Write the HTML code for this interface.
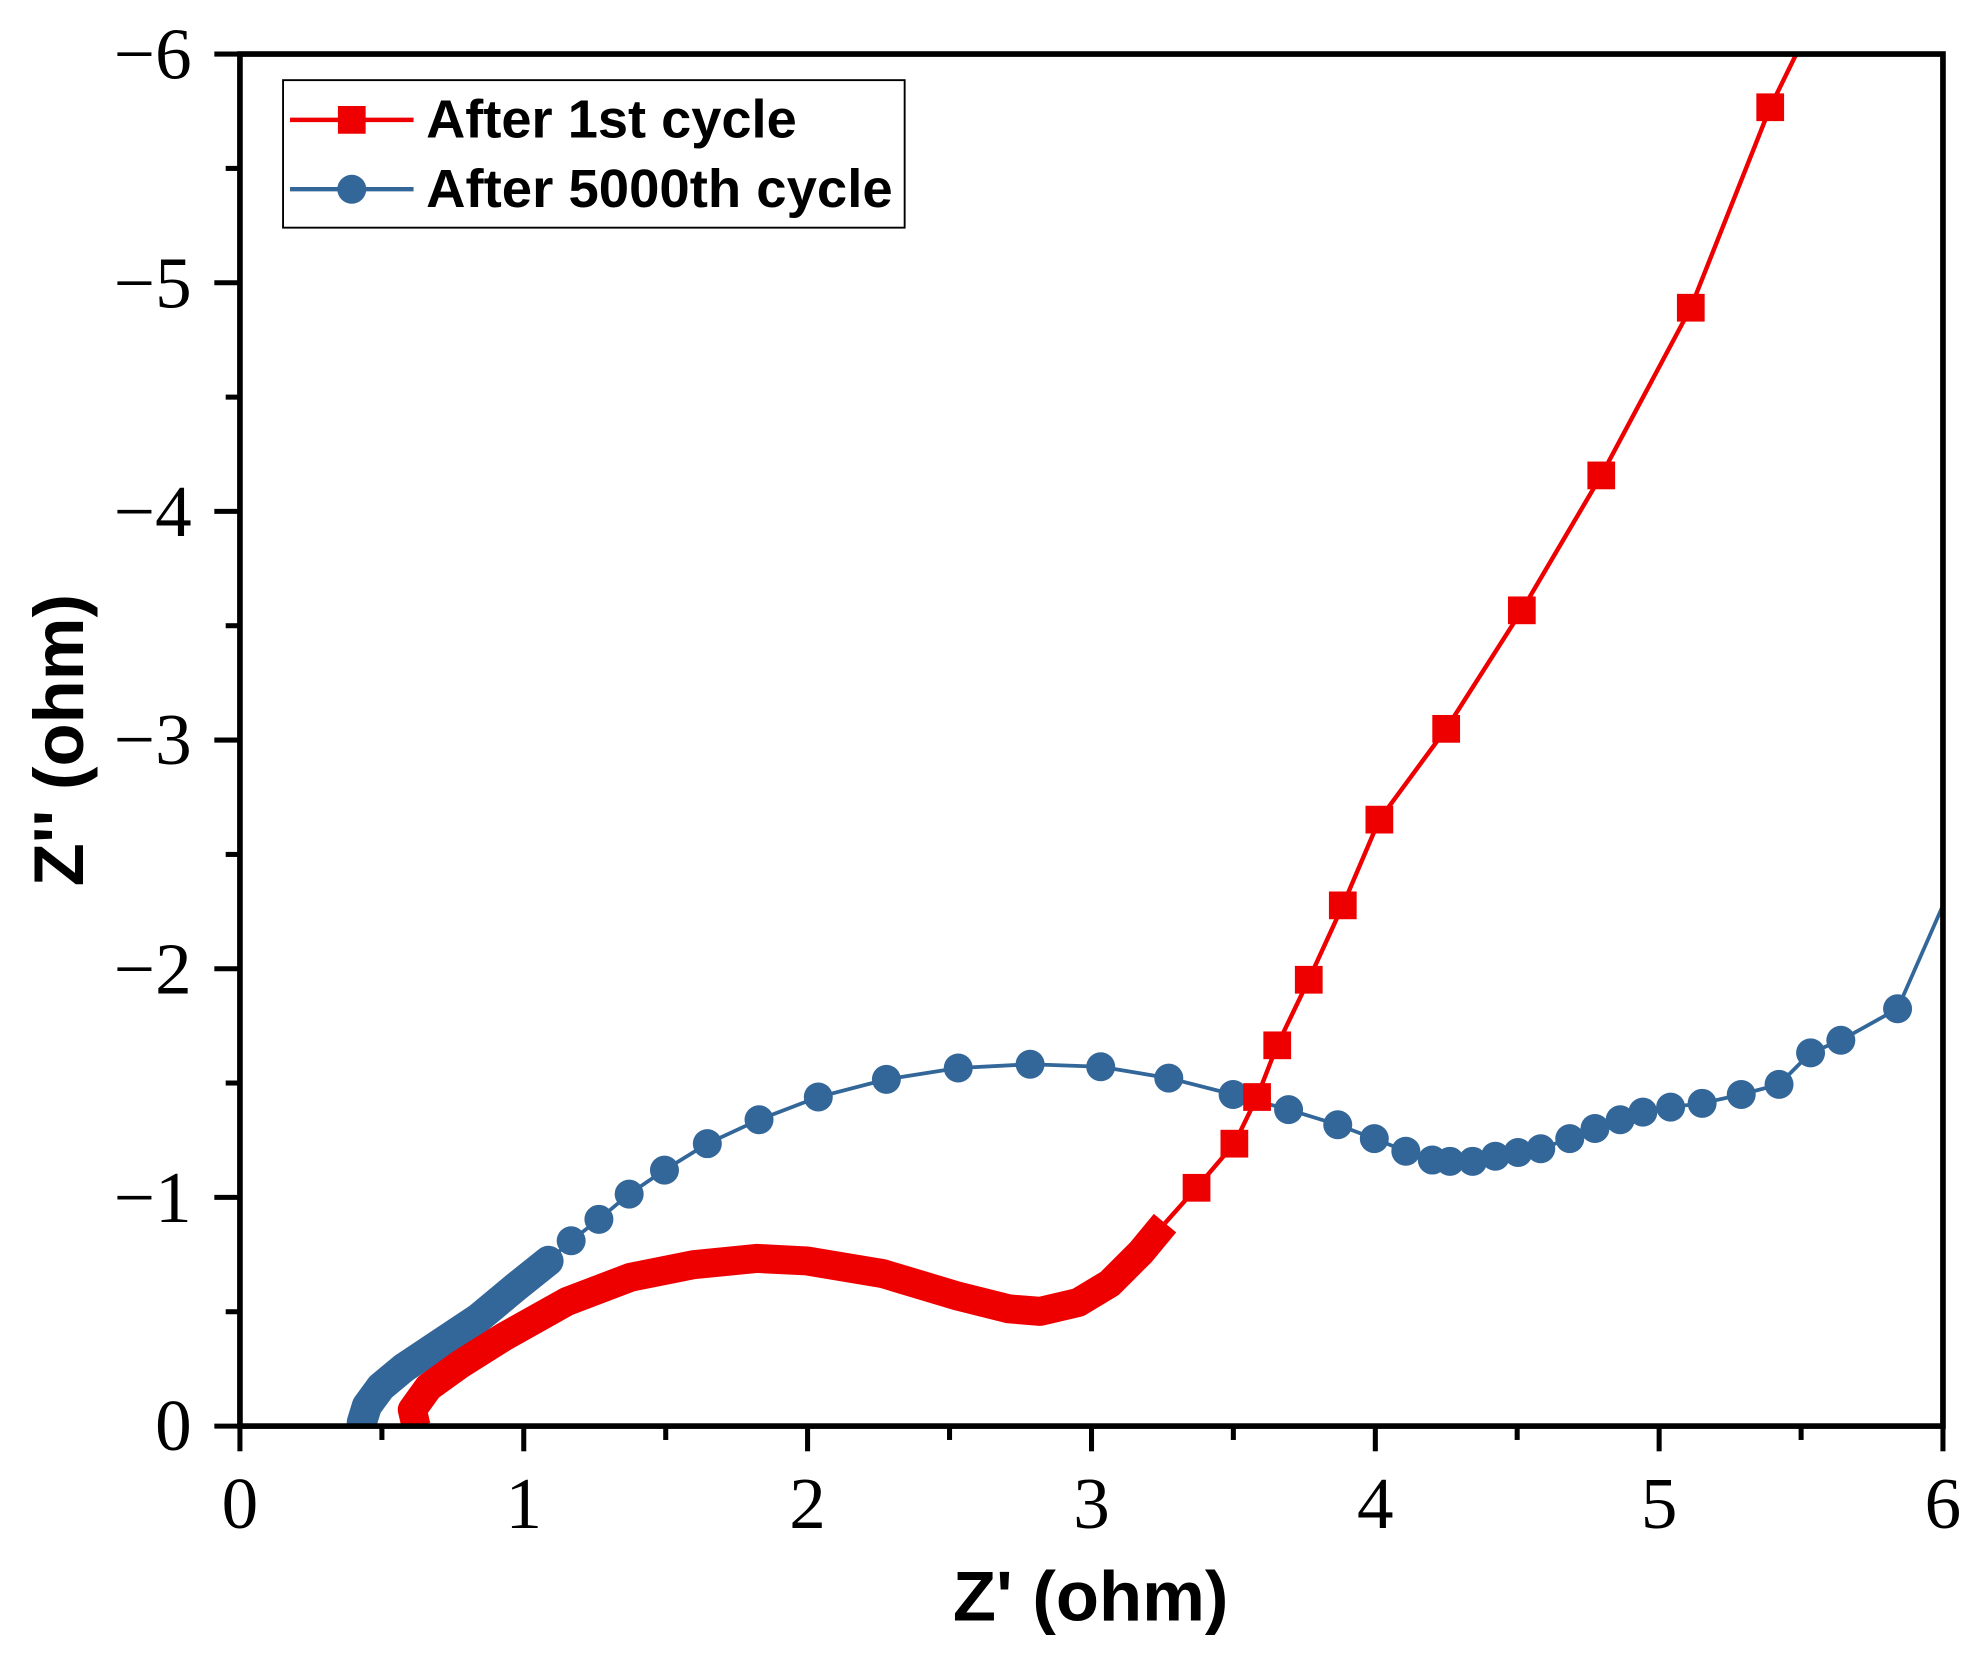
<!DOCTYPE html>
<html><head><meta charset="utf-8"><style>html,body{margin:0;padding:0;background:#fff}svg{display:block}</style></head>
<body>
<svg xmlns="http://www.w3.org/2000/svg" width="1977" height="1667" viewBox="0 0 1568 1322">
<defs><clipPath id="c"><rect x="190" y="43" width="1351" height="1088"/></clipPath></defs>
<g clip-path="url(#c)">
<polyline fill="none" stroke="#336699" stroke-width="3" points="435,1000 453,984 475,967 499,947 527,928 561,907 602,888 649,870 703,856 760,847 817,844 873,846 927,855 978,868 1022,880 1061,892 1090,903 1115,913 1136,920 1150,921 1168,921 1186,917 1204,914 1222,911 1245,903 1265,895 1285,888 1303,882 1325,878 1350,875 1381,868 1411,860 1436,835 1460,825 1505,800 1541,718"/>
<polyline fill="none" stroke="#336699" stroke-width="24" stroke-linecap="round" stroke-linejoin="round" points="287,1128 291,1115 302,1100 320,1085 350,1065 380,1045 410,1020 420,1012 435,1000"/>
<g fill="#336699">
<circle cx="453" cy="984" r="11.5"/><circle cx="475" cy="967" r="11.5"/><circle cx="499" cy="947" r="11.5"/><circle cx="527" cy="928" r="11.5"/><circle cx="561" cy="907" r="11.5"/><circle cx="602" cy="888" r="11.5"/><circle cx="649" cy="870" r="11.5"/><circle cx="703" cy="856" r="11.5"/><circle cx="760" cy="847" r="11.5"/><circle cx="817" cy="844" r="11.5"/><circle cx="873" cy="846" r="11.5"/><circle cx="927" cy="855" r="11.5"/><circle cx="978" cy="868" r="11.5"/><circle cx="1022" cy="880" r="11.5"/><circle cx="1061" cy="892" r="11.5"/><circle cx="1090" cy="903" r="11.5"/><circle cx="1115" cy="913" r="11.5"/><circle cx="1136" cy="920" r="11.5"/><circle cx="1150" cy="921" r="11.5"/><circle cx="1168" cy="921" r="11.5"/><circle cx="1186" cy="917" r="11.5"/><circle cx="1204" cy="914" r="11.5"/><circle cx="1222" cy="911" r="11.5"/><circle cx="1245" cy="903" r="11.5"/><circle cx="1265" cy="895" r="11.5"/><circle cx="1285" cy="888" r="11.5"/><circle cx="1303" cy="882" r="11.5"/><circle cx="1325" cy="878" r="11.5"/><circle cx="1350" cy="875" r="11.5"/><circle cx="1381" cy="868" r="11.5"/><circle cx="1411" cy="860" r="11.5"/><circle cx="1436" cy="835" r="11.5"/><circle cx="1460" cy="825" r="11.5"/><circle cx="1505" cy="800" r="11.5"/>
</g>
<polyline fill="none" stroke="#e00" stroke-width="3.5" points="924,970 949,942 979,907 997,870 1013,829 1038,777 1065,718 1094,650 1147,578 1207,484 1270,377 1341,244 1404,85 1426,40"/>
<polyline fill="none" stroke="#e00" stroke-width="23" stroke-linejoin="round" points="330,1131 327,1118 340,1100 365,1082 400,1060 450,1032 500,1013 550,1003 600,998 640,1000 700,1010 760,1028 800,1038 825,1040 855,1033 880,1018 905,993 924,970"/>
<g fill="#e00">
<rect x="938" y="931" width="22" height="22"/><rect x="968" y="896" width="22" height="22"/><rect x="986" y="859" width="22" height="22"/><rect x="1002" y="818" width="22" height="22"/><rect x="1027" y="766" width="22" height="22"/><rect x="1054" y="707" width="22" height="22"/><rect x="1083" y="639" width="22" height="22"/><rect x="1136" y="567" width="22" height="22"/><rect x="1196" y="473" width="22" height="22"/><rect x="1259" y="366" width="22" height="22"/><rect x="1330" y="233" width="22" height="22"/><rect x="1393" y="74" width="22" height="22"/>
</g>
</g>
<rect x="190.3" y="42.8" width="1350.7" height="1088.2" fill="none" stroke="#000" stroke-width="4.5"/>
<g stroke="#000" stroke-width="4">
<line x1="190.3" y1="1131" x2="190.3" y2="1151"/><line x1="302.9" y1="1131" x2="302.9" y2="1142"/><line x1="415.4" y1="1131" x2="415.4" y2="1151"/><line x1="528" y1="1131" x2="528" y2="1142"/><line x1="640.5" y1="1131" x2="640.5" y2="1151"/><line x1="753.1" y1="1131" x2="753.1" y2="1142"/><line x1="865.7" y1="1131" x2="865.7" y2="1151"/><line x1="978.2" y1="1131" x2="978.2" y2="1142"/><line x1="1090.8" y1="1131" x2="1090.8" y2="1151"/><line x1="1203.3" y1="1131" x2="1203.3" y2="1142"/><line x1="1315.9" y1="1131" x2="1315.9" y2="1151"/><line x1="1428.5" y1="1131" x2="1428.5" y2="1142"/><line x1="1541" y1="1131" x2="1541" y2="1151"/>
<line x1="190.3" y1="1131" x2="170" y2="1131"/><line x1="190.3" y1="1040.3" x2="179" y2="1040.3"/><line x1="190.3" y1="949.6" x2="170" y2="949.6"/><line x1="190.3" y1="858.9" x2="179" y2="858.9"/><line x1="190.3" y1="768.3" x2="170" y2="768.3"/><line x1="190.3" y1="677.6" x2="179" y2="677.6"/><line x1="190.3" y1="586.9" x2="170" y2="586.9"/><line x1="190.3" y1="496.2" x2="179" y2="496.2"/><line x1="190.3" y1="405.5" x2="170" y2="405.5"/><line x1="190.3" y1="314.9" x2="179" y2="314.9"/><line x1="190.3" y1="224.2" x2="170" y2="224.2"/><line x1="190.3" y1="133.5" x2="179" y2="133.5"/><line x1="190.3" y1="42.8" x2="170" y2="42.8"/>
</g>
<g font-family="Liberation Serif, serif" font-size="58" fill="#000" text-anchor="middle">
<text x="190.3" y="1212">0</text><text x="415.4" y="1212">1</text><text x="640.5" y="1212">2</text><text x="865.7" y="1212">3</text><text x="1090.8" y="1212">4</text><text x="1315.9" y="1212">5</text><text x="1541" y="1212">6</text>
</g>
<g font-family="Liberation Serif, serif" font-size="58" fill="#000" text-anchor="end">
<text x="152" y="1150">0</text><text x="152" y="969">−1</text><text x="152" y="788">−2</text><text x="152" y="606">−3</text><text x="152" y="425">−4</text><text x="152" y="244">−5</text><text x="152" y="62">−6</text>
</g>
<text x="865" y="1285" font-family="Liberation Sans, sans-serif" font-weight="bold" font-size="56" text-anchor="middle">Z' (ohm)</text>
<text transform="translate(66,587) rotate(-90)" font-family="Liberation Sans, sans-serif" font-weight="bold" font-size="56" text-anchor="middle">Z'' (ohm)</text>
<rect x="224.5" y="63.5" width="493" height="117" fill="#fff" stroke="#000" stroke-width="1.5"/>
<line x1="230" y1="95" x2="328" y2="95" stroke="#e00" stroke-width="3.5"/>
<rect x="268" y="84" width="22" height="22" fill="#e00"/>
<line x1="230" y1="150" x2="328" y2="150" stroke="#336699" stroke-width="3.5"/>
<circle cx="279" cy="150" r="11.5" fill="#336699"/>
<g font-family="Liberation Sans, sans-serif" font-weight="bold" font-size="43">
<text x="338" y="109">After 1st cycle</text>
<text x="338" y="164" textLength="370" lengthAdjust="spacingAndGlyphs">After 5000th cycle</text></g>
</svg>
</body></html>
